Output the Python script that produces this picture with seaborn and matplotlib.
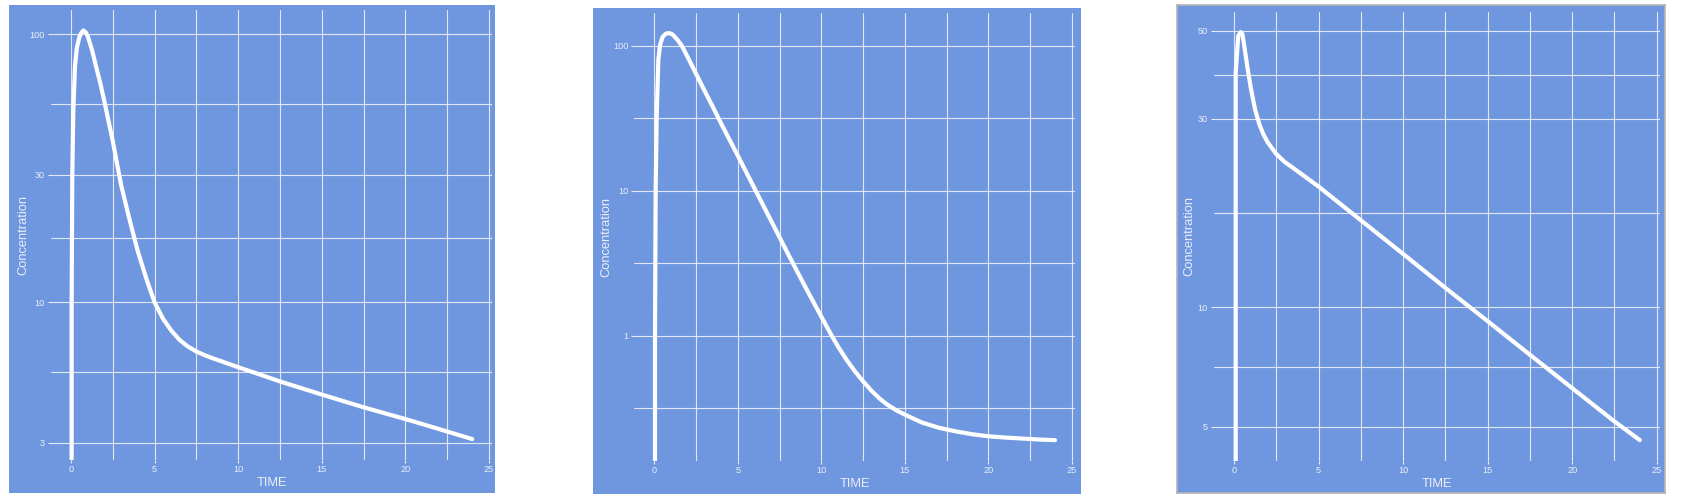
import numpy as np
import pandas as pd
import matplotlib
matplotlib.use("Agg")
import matplotlib.pyplot as plt
from matplotlib.ticker import FixedLocator, NullFormatter
import seaborn as sns

# ---------------- data ----------------
time_1 = [0, 0.04, 0.08, 0.14, 0.24, 0.35, 0.5, 0.6, 0.74, 0.9, 1.0, 1.25, 1.5,
          1.75, 2, 2.5, 3, 3.5, 4, 4.5, 5, 5.5, 6, 6.5, 7, 7.5, 8, 8.5, 9, 10,
          11, 12.5, 15, 17.5, 20, 22, 24]
conc_1 = [0, 10, 30, 52, 76, 89, 97.5, 101, 103.5, 101.5, 98.6, 87.9, 76,
          65.9, 56.2, 40, 27.4, 20.4, 15.5, 12.3, 10, 8.7, 7.85, 7.24, 6.84, 6.56,
          6.35, 6.18, 6.03, 5.73, 5.46, 5.07, 4.53, 4.06, 3.67, 3.37, 3.09]

time_2 = [0, 0.04, 0.08, 0.14, 0.24, 0.35, 0.5, 0.7, 0.9, 1.1, 1.4, 1.64, 2,
          2.5, 3, 3.5, 4, 5, 6, 7, 8, 9, 10, 10.62, 11, 11.5, 12, 12.5, 13,
          13.5, 14, 14.5, 15, 16, 17, 18, 19, 20, 21, 22, 23, 24]
conc_2 = [0, 1, 10, 32.5, 80, 102, 115, 121, 122, 119, 109, 100, 83.2,
          63.8, 49, 37.8, 29, 17.4, 10.35, 6.17, 3.67, 2.21, 1.35, 1.0, 0.84,
          0.684, 0.569, 0.484, 0.417, 0.367, 0.331, 0.305, 0.285, 0.252, 0.232,
          0.219, 0.209, 0.202, 0.198, 0.195, 0.192, 0.19]

time_3 = [0, 0.1, 0.25, 0.4, 0.5, 0.65, 0.8, 1.0, 1.25, 1.5, 1.75, 2, 2.5, 3,
          3.5, 4, 5, 7.5, 10, 12.5, 15, 17.5, 20, 22.5, 24]
conc_3 = [0, 39, 48.5, 49.6, 49, 44.5, 40.3, 35.7, 31.6, 29.0, 27.3, 26.1,
          24.4, 23.3, 22.5, 21.7, 20.2, 16.6, 13.65, 11.2, 9.23, 7.59, 6.25,
          5.15, 4.62]

x_ticks = [0, 5, 10, 15, 20, 25]
x_minor = [2.5, 7.5, 12.5, 17.5, 22.5]
y_ticks_1 = [3, 10, 30, 100]
y_ticks_2 = [0.1, 1, 10, 100]
y_ticks_3 = [5, 10, 30, 50]
y_labels_1 = ["3", "10", "30", "100"]
y_labels_2 = ["0.1", "1", "10", "100"]
y_labels_3 = ["5", "10", "30", "50"]

x_label = "TIME"
y_label = "Concentration"

# ---------------- style ----------------
sns.set_theme(style="white")
plt.rcParams["font.family"] = ["Liberation Sans", "DejaVu Sans"]

BLUE = "#6f97e0"
GRID = "#eef0f4"
TXT = "#eaeef6"

W, H = 1682, 503
fig = plt.figure(figsize=(W / 100, H / 100), dpi=100)
fig.patch.set_facecolor("white")


def fx(px):
    return px / W


def fy(py):
    return 1 - py / H


panels = [
    # background box (l, t, r, b), axes box (l, t, r, b), border
    dict(bg=(9, 5, 495, 493), ax=(50.9, 10, 492.3, 459.5), border=None, lp=0.5,
         t=time_1, c=conc_1, yt=y_ticks_1, yl=y_labels_1),
    dict(bg=(593, 8, 1081, 494), ax=(634.3, 12.7, 1075.1, 460.5), border=None, lp=0.5,
         t=time_2, c=conc_2, yt=y_ticks_2, yl=y_labels_2),
    dict(bg=(1177, 5, 1665, 493), ax=(1213.7, 11.7, 1660.1, 460.5), border="#b5b5b5",
         lp=1.5, t=time_3, c=conc_3, yt=y_ticks_3, yl=y_labels_3),
]

for p in panels:
    l, t, r, b = p["bg"]
    bgax = fig.add_axes([fx(l), fy(b), fx(r) - fx(l), fy(t) - fy(b)], zorder=-5)
    bgax.set_facecolor(BLUE)
    bgax.set_xticks([])
    bgax.set_yticks([])
    for s in bgax.spines.values():
        if p["border"]:
            s.set_visible(True)
            s.set_color(p["border"])
            s.set_linewidth(1.2)
        else:
            s.set_visible(False)

    al, at, ar, ab = p["ax"]
    ax = fig.add_axes([fx(al), fy(ab), fx(ar) - fx(al), fy(at) - fy(ab)], zorder=1)
    ax.patch.set_alpha(0)

    df = pd.DataFrame({"TIME": p["t"], "Concentration": p["c"]})
    sns.lineplot(data=df, x="TIME", y="Concentration", ax=ax, color="white",
                 linewidth=3.0, estimator=None, sort=False, zorder=3,
                 solid_capstyle="round", solid_joinstyle="round")
    ax.set_yscale("log", nonpositive="clip")

    # ggplot-like 5% expansion, computed from the data
    tmin, tmax = min(p["t"]), max(p["t"])
    span = tmax - tmin
    ax.set_xlim(tmin - 0.05 * span, tmax + 0.05 * span)
    pos = np.log10([v for v in p["c"] if v > 0])
    lspan = pos.max() - pos.min()
    ax.set_ylim(10 ** (pos.min() - 0.05 * lspan), 10 ** (pos.max() + 0.05 * lspan))

    ax.xaxis.set_major_locator(FixedLocator(x_ticks))
    ax.xaxis.set_minor_locator(FixedLocator(x_minor))
    ax.set_xticklabels([str(v) for v in x_ticks])

    yt = p["yt"]
    lg = np.log10(yt)
    mids = [10 ** ((lg[i] + lg[i + 1]) / 2) for i in range(len(lg) - 1)]
    ax.yaxis.set_major_locator(FixedLocator(yt))
    ax.yaxis.set_minor_locator(FixedLocator(mids))
    ax.set_yticklabels(p["yl"])
    ax.yaxis.set_minor_formatter(NullFormatter())

    ax.grid(True, which="both", color=GRID, linewidth=0.8, alpha=0.9, zorder=1)
    ax.set_axisbelow(True)
    for s in ax.spines.values():
        s.set_visible(False)
    ax.tick_params(which="major", length=2.2, width=0.8, color=GRID, pad=2,
                   labelsize=6.6, labelcolor=TXT, left=True, bottom=True)
    ax.tick_params(which="minor", length=0)
    ax.set_xlabel(x_label, fontsize=9.3, color=TXT, labelpad=2)
    ax.set_ylabel(y_label, fontsize=9.3, color=TXT, labelpad=p["lp"])

fig.savefig("out.png", dpi=100, facecolor="white")
